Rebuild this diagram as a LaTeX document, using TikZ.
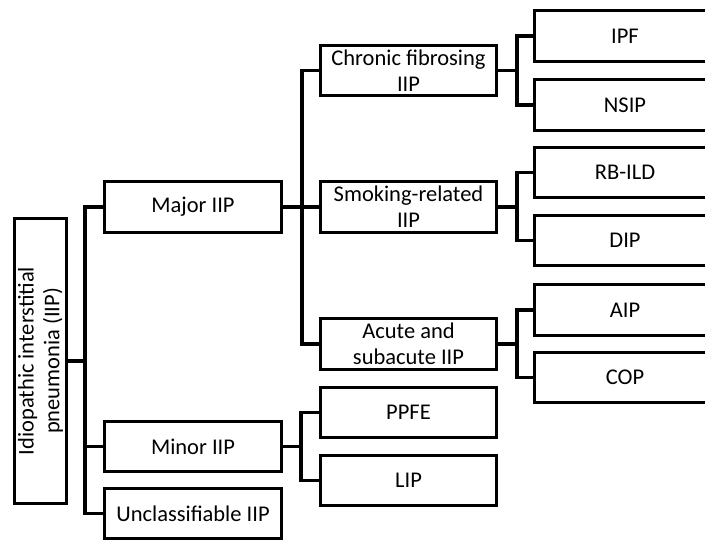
\documentclass[tikz,border=0pt]{standalone}
\usepackage{fontspec}
\setmainfont{Carlito}

\begin{document}
\begin{tikzpicture}[x=0.02cm,y=-0.02cm,
  box/.style={draw,line width=0.066cm,align=center,inner sep=2pt,
    minimum width=3.53cm,minimum height=1.01cm,
    font=\fontsize{12.8}{14.6}\selectfont},
  leaf/.style={box,minimum width=3.61cm},
  link/.style={line width=0.066cm}]
\useasboundingbox (0,0) rectangle (705,542);
\clip (0,0) rectangle (705,542);
% root
\node[box,rotate=90,minimum width=5.69cm,minimum height=1.03cm] (root) at (40.5,361) {Idiopathic interstitial\\pneumonia (IIP)};
% first level
\node[box] (major) at (193,207) {Major IIP};
\node[box] (minor) at (193,446.5) {Minor IIP};
\node[box] (uncl) at (193,513.5) {Unclassifiable IIP};
% second level
\node[box] (chronic) at (408.5,70.5) {Chronic fibrosing\\IIP};
\node[box] (smoking) at (408.5,207) {Smoking-related\\IIP};
\node[box] (acute) at (408.5,344) {Acute and\\subacute IIP};
\node[box] (ppfe) at (408.5,412.5) {PPFE};
\node[box] (lip) at (408.5,480.5) {LIP};
% third level
\node[leaf] (ipf) at (625,36) {IPF};
\node[leaf] (nsip) at (625,105) {NSIP};
\node[leaf] (rbild) at (625,172.5) {RB-ILD};
\node[leaf] (dip) at (625,240.5) {DIP};
\node[leaf] (aip) at (625,310) {AIP};
\node[leaf] (cop) at (625,377.5) {COP};
% branch points
\coordinate (t0) at (85,361);
\coordinate (t1) at (302,207);
\coordinate (t2) at (301,446.5);
\coordinate (t3) at (517,70.5);
\coordinate (t4) at (517,207);
\coordinate (t5) at (517,344);
% connectors
\draw[link] (root.south) -- (t0);
\foreach \n in {major,minor,uncl} \draw[link] (\n.west) -| (t0);
\draw[link] (major.east) -- (t1);
\foreach \n in {chronic,smoking,acute} \draw[link] (\n.west) -| (t1);
\draw[link] (minor.east) -- (t2);
\foreach \n in {ppfe,lip} \draw[link] (\n.west) -| (t2);
\draw[link] (chronic.east) -- (t3);
\foreach \n in {ipf,nsip} \draw[link] (\n.west) -| (t3);
\draw[link] (smoking.east) -- (t4);
\foreach \n in {rbild,dip} \draw[link] (\n.west) -| (t4);
\draw[link] (acute.east) -- (t5);
\foreach \n in {aip,cop} \draw[link] (\n.west) -| (t5);
\end{tikzpicture}
\end{document}
